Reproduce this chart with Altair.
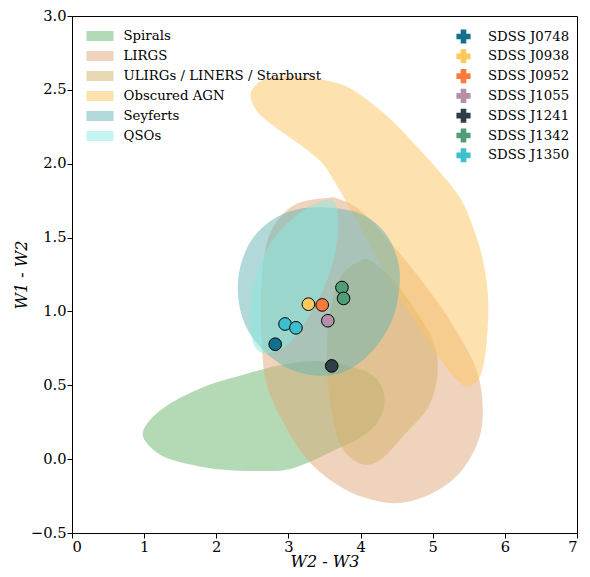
import altair as alt
import pandas as pd

# ---- region outlines (data coordinates: W2-W3, W1-W2) ----
region_names = ["Spirals", "LIRGS", "ULIRGs / LINERS / Starburst",
                "Obscured AGN", "Seyferts", "QSOs"]
region_colors = ["#67b569", "#e1a779", "#d3b169", "#fbc561", "#63b3b3", "#89e9df"]

spirals_x = [0.984, 1.148, 1.463, 1.914, 2.379, 2.830, 3.336, 3.787, 4.156, 4.320,
             4.293, 4.061, 3.609, 3.063, 2.598, 1.914, 1.326, 1.053]
spirals_y = [0.186, 0.299, 0.405, 0.505, 0.572, 0.631, 0.665, 0.638, 0.572, 0.452,
             0.299, 0.166, 0.053, -0.061, -0.081, -0.061, 0.006, 0.099]

lirgs_x = [3.555, 3.063, 2.734, 2.625, 2.625, 2.693, 2.926, 3.281, 3.746, 4.197, 4.608,
           5.059, 5.428, 5.660, 5.688, 5.606, 5.428, 5.113, 4.703, 4.293, 3.965, 3.692]
lirgs_y = [1.769, 1.716, 1.516, 1.184, 0.851, 0.518, 0.252, -0.014, -0.194, -0.280, -0.293,
           -0.214, -0.061, 0.166, 0.405, 0.605, 0.784, 1.031, 1.297, 1.536, 1.696, 1.762]

ulirgs_x = [4.020, 3.746, 3.609, 3.541, 3.541, 3.609, 3.746, 4.020, 4.293, 4.608,
            4.922, 5.059, 5.045, 4.881, 4.608, 4.334, 4.156]
ulirgs_y = [1.350, 1.250, 1.070, 0.851, 0.565, 0.299, 0.073, -0.034, 0.001, 0.166,
            0.339, 0.538, 0.738, 0.917, 1.117, 1.270, 1.337]

agn_x = [2.488, 2.652, 2.967, 3.418, 3.787, 4.102, 4.430, 4.744, 5.113, 5.387, 5.565,
         5.701, 5.770, 5.742, 5.660, 5.496, 5.332, 5.113, 4.840, 4.512, 4.197, 3.883,
         3.651, 3.473, 3.199, 2.871, 2.598, 2.488]
agn_y = [2.494, 2.568, 2.594, 2.574, 2.528, 2.428, 2.295, 2.135, 1.935, 1.762, 1.563,
         1.337, 1.071, 0.764, 0.565, 0.492, 0.538, 0.671, 0.871, 1.117, 1.383, 1.669,
         1.869, 2.002, 2.115, 2.228, 2.335, 2.428]

seyferts_x = [3.514, 3.992, 4.334, 4.512, 4.539, 4.444, 4.197, 3.856, 3.486, 3.076,
              2.721, 2.447, 2.311, 2.324, 2.488, 2.762, 3.104]
seyferts_y = [1.703, 1.663, 1.536, 1.350, 1.170, 0.951, 0.751, 0.611, 0.565, 0.598,
              0.705, 0.864, 1.064, 1.283, 1.483, 1.616, 1.689]

qsos_x = [3.609, 3.692, 3.651, 3.514, 3.281, 3.008, 2.734, 2.529, 2.475, 2.529,
          2.734, 3.063, 3.377]
qsos_y = [1.749, 1.629, 1.403, 1.184, 0.964, 0.784, 0.718, 0.764, 0.964, 1.184,
          1.450, 1.629, 1.729]

# ---- SDSS sources ----
source_names = ["SDSS J0748", "SDSS J0938", "SDSS J0952", "SDSS J1055",
                "SDSS J1241", "SDSS J1342", "SDSS J1350"]
source_colors = ["#14708f", "#fdc95c", "#fb7a3c", "#b58ea8", "#2f3e46", "#519d78", "#3ebfcf"]
pt_source = ["SDSS J0748", "SDSS J0938", "SDSS J0952", "SDSS J1055", "SDSS J1241",
             "SDSS J1342", "SDSS J1342", "SDSS J1350", "SDSS J1350"]
pt_x = [2.817, 3.277, 3.468, 3.546, 3.600, 3.742, 3.764, 2.953, 3.104]
pt_y = [0.778, 1.049, 1.044, 0.937, 0.631, 1.162, 1.088, 0.915, 0.889]

outlines = [(spirals_x, spirals_y), (lirgs_x, lirgs_y), (ulirgs_x, ulirgs_y),
            (agn_x, agn_y), (seyferts_x, seyferts_y), (qsos_x, qsos_y)]

xscale = alt.Scale(domain=[0, 7], nice=False, zero=False)
yscale = alt.Scale(domain=[-0.5, 3.0], nice=False, zero=False)
xaxis = alt.Axis(values=list(range(0, 8)), format="d", title="W2 - W3", titlePadding=0)
yaxis = alt.Axis(values=[-0.5, 0.0, 0.5, 1.0, 1.5, 2.0, 2.5, 3.0], format=".1f",
                 title="W1 - W2", titlePadding=1)

rect_path = "M-1.35,-0.5L1.35,-0.5L1.35,0.5L-1.35,0.5Z"
fill_scale = alt.Scale(domain=region_names, range=region_colors)

layers = []
for i, (name, (xs, ys)) in enumerate(zip(region_names, outlines)):
    df = pd.DataFrame({"region": name, "x": xs, "y": ys, "o": list(range(len(xs)))})
    if i == 0:
        enc_fill = alt.Fill("region:N", scale=fill_scale,
                            legend=alt.Legend(title=None, orient="none", legendX=18,
                                              legendY=10, symbolType=rect_path,
                                              symbolSize=400, symbolOpacity=0.5,
                                              symbolStrokeWidth=0, labelOffset=13.5,
                                              rowPadding=3, padding=0, labelLimit=400))
    else:
        enc_fill = alt.Fill("region:N", scale=fill_scale)
    layers.append(
        alt.Chart(df).mark_line(interpolate="cardinal-closed", strokeWidth=0,
                                fillOpacity=0.5).encode(
            x=alt.X("x:Q", scale=xscale, axis=xaxis),
            y=alt.Y("y:Q", scale=yscale, axis=yaxis),
            order="o:Q",
            fill=enc_fill,
        )
    )

pts = pd.DataFrame({"source": pt_source, "x": pt_x, "y": pt_y})
points = alt.Chart(pts).mark_point(shape="circle", filled=True, size=160, opacity=1,
                                   stroke="black", strokeWidth=1).encode(
    x=alt.X("x:Q", scale=xscale, axis=xaxis),
    y=alt.Y("y:Q", scale=yscale, axis=yaxis),
    color=alt.Color("source:N", scale=alt.Scale(domain=source_names, range=source_colors),
                    legend=alt.Legend(title=None, orient="none", legendX=384, legendY=13,
                                      symbolType="cross", symbolSize=200,
                                      symbolStrokeWidth=0, symbolOpacity=1,
                                      labelOffset=17, rowPadding=4.8, padding=0)),
)

chart = alt.layer(*layers, points).properties(
    width=505, height=517,
    padding={"left": 5, "top": 0, "right": 0, "bottom": 0},
).configure_view(stroke="black", strokeWidth=1).configure_axis(
    grid=False, domainColor="black", tickColor="black", tickSize=5,
    labelFont="DejaVu Serif", labelFontSize=14.7, labelColor="black", labelPadding=1,
    titleFont="DejaVu Serif", titleFontSize=16, titleFontStyle="italic",
    titleFontWeight="normal", titleColor="black",
).configure_legend(
    labelFont="DejaVu Serif", labelFontSize=13.3, labelColor="black",
)

chart.save("out.html", embed_options={"renderer": "svg", "actions": False})
